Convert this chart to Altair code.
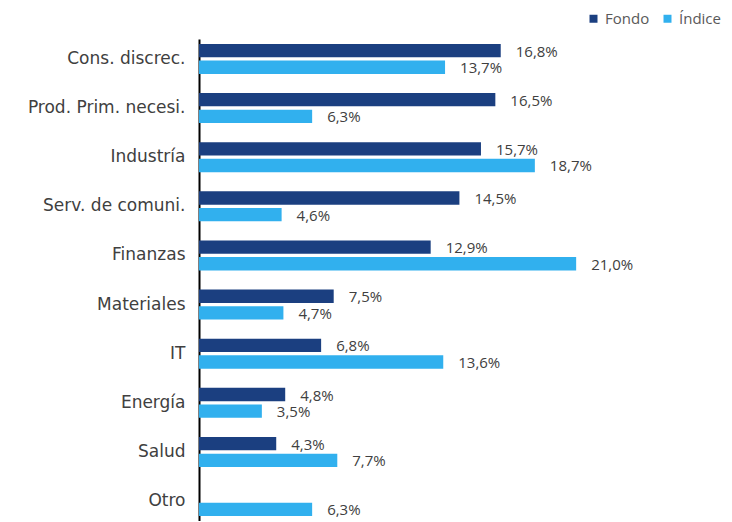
import altair as alt
import pandas as pd

categories = ["Cons. discrec.", "Prod. Prim. necesi.", "Industría", "Serv. de comuni.",
              "Finanzas", "Materiales", "IT", "Energía", "Salud", "Otro"]
fondo = [16.8, 16.5, 15.7, 14.5, 12.9, 7.5, 6.8, 4.8, 4.3, None]
indice = [13.7, 6.3, 18.7, 4.6, 21.0, 4.7, 13.6, 3.5, 7.7, 6.3]
series = ["Fondo", "Índice"]
colors = ["#1B3F80", "#31B0EE"]

rows = []
for c, f, i in zip(categories, fondo, indice):
    for s, v in zip(series, [f, i]):
        if v is None:
            continue
        rows.append({"cat": c, "serie": s, "val": v,
                     "label": f"{v:.1f}".replace(".", ",") + "%"})
df = pd.DataFrame(rows)

FONT = "Open Sans"
LFONT = "DejaVu Sans"

y = alt.Y("cat:N", sort=categories, title=None,
          scale=alt.Scale(paddingInner=0.39, paddingOuter=0.1),
          axis=alt.Axis(domainColor="black", domainWidth=2, ticks=False,
                        labelPadding=14, labelFontSize=17, labelColor="#404040",
                        labelFont=LFONT, labelLimit=300))
yoff = alt.YOffset("serie:N", sort=series, scale=alt.Scale(paddingInner=0.2))
x = alt.X("val:Q", scale=alt.Scale(domain=[0, 25], nice=False), axis=None)

base = alt.Chart(df)
bars = base.mark_bar().encode(
    y=y, yOffset=yoff, x=x,
    color=alt.Color("serie:N", sort=series,
                    scale=alt.Scale(domain=series, range=colors),
                    legend=alt.Legend(title=None, orient="none", legendX=387, legendY=-28,
                                      direction="horizontal", labelFontSize=15,
                                      labelFont=FONT, labelColor="#595959",
                                      symbolType="square", symbolSize=64,
                                      symbolStrokeWidth=0, columnPadding=10,
                                      labelOffset=4, labelLimit=200)),
)
text = base.mark_text(align="left", baseline="middle", dx=15, dy=1,
                      fontSize=15, font=FONT, color="#404040").encode(
    y=y, yOffset=yoff, x=x, text="label:N")

chart = (bars + text).properties(
    width=449, height=482,
    padding={"left": 191, "top": 31, "right": 76, "bottom": 0},
    autosize=alt.AutoSizeParams(type="none"),
).configure_view(stroke=None)

chart.save("out.html", embed_options={"renderer": "svg", "actions": False})
